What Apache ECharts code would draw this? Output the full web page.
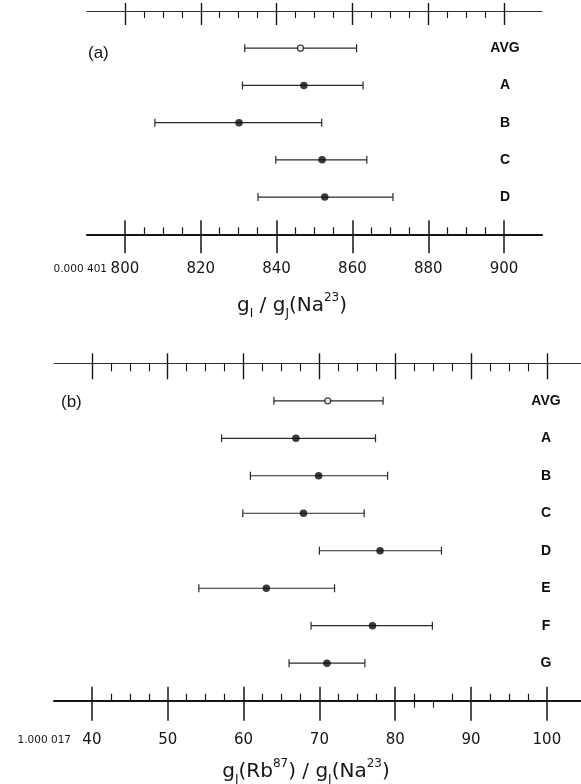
<!DOCTYPE html>
<html><head><meta charset="utf-8">
<script src="https://cdn.jsdelivr.net/npm/echarts@6/dist/echarts.min.js"></script>
<style>html,body{margin:0;padding:0;background:#fff}#c{width:581px;height:784px}</style>
</head><body><div id="c"></div>
<script>
// ---- Panel (a): gI/gJ(Na23), offset 0.000 401 ----
const rowsA = ['AVG', 'A', 'B', 'C', 'D'];
const centerA = [846.3, 847.2, 830.1, 852.0, 852.7];
const lowA = [831.6, 831.0, 807.9, 839.8, 835.1];
const highA = [861.1, 862.8, 851.9, 863.8, 870.7];
const majorTicksA = [800, 820, 840, 860, 880, 900];
const minorTicksA = [805, 810, 815, 825, 830, 835, 845, 850, 855, 865, 870, 875, 885, 890, 895];

// ---- Panel (b): gJ(Rb87)/gJ(Na23), offset 1.000 017 ----
const rowsB = ['AVG', 'A', 'B', 'C', 'D', 'E', 'F', 'G'];
const centerB = [71.1, 66.9, 69.9, 67.9, 78.0, 63.0, 77.0, 71.0];
const lowB = [64.0, 57.1, 60.9, 59.9, 70.0, 54.1, 68.9, 66.0];
const highB = [78.4, 77.4, 79.0, 75.9, 86.1, 72.0, 84.9, 76.0];
const majorTicksB = [40, 50, 60, 70, 80, 90, 100];
const minorTicksB = [42.5, 45, 47.5, 52.5, 55, 57.5, 62.5, 65, 67.5, 72.5, 75, 77.5, 82.5, 87.5, 92.5, 95, 97.5];
const minorTopB = [42.5, 45, 47.5, 52.5, 55, 57.5, 62.5, 65, 67.5, 72.5, 75, 77.5, 82.5, 85, 87.5, 92.5, 95, 97.5];
const strayTicksB = [82.5, 85];   // minor ticks drawn below the bottom axis line in the original

const INK = '#161616';
const LABEL_FONT = 'DejaVu Sans';

function axesFor(grid, min, max, major, minor, minorTop, stray, t) {
  const base = { type: 'value', gridIndex: grid, min: min, max: max, splitLine: { show: false } };
  const noLabel = { show: false };
  const list = [
    Object.assign({}, base, {
      position: 'bottom',
      axisLine: { show: true, lineStyle: { color: INK, width: 2.2 } },
      axisTick: { show: true, inside: true, length: t.bIn, customValues: major, lineStyle: { color: INK, width: 1.5 } },
      axisLabel: { show: true, customValues: major, margin: t.labelMargin, verticalAlign: 'middle',
                   color: INK, fontFamily: LABEL_FONT, fontSize: 15 }
    }),
    Object.assign({}, base, {
      position: 'bottom', axisLine: { show: false }, axisLabel: noLabel,
      axisTick: { show: true, inside: false, length: t.bOut, customValues: major, lineStyle: { color: INK, width: 1.5 } }
    }),
    Object.assign({}, base, {
      position: 'bottom', axisLine: { show: false }, axisLabel: noLabel,
      axisTick: { show: true, inside: true, length: 7, customValues: minor, lineStyle: { color: INK, width: 1.2 } }
    }),
    Object.assign({}, base, {
      position: 'top', axisLabel: noLabel,
      axisLine: { show: true, lineStyle: { color: '#333', width: 1.2 } },
      axisTick: { show: true, inside: false, length: t.tOut, customValues: major, lineStyle: { color: INK, width: 1.4 } }
    }),
    Object.assign({}, base, {
      position: 'top', axisLine: { show: false }, axisLabel: noLabel,
      axisTick: { show: true, inside: true, length: t.tIn, customValues: major, lineStyle: { color: INK, width: 1.4 } }
    }),
    Object.assign({}, base, {
      position: 'top', axisLine: { show: false }, axisLabel: noLabel,
      axisTick: { show: true, inside: true, length: t.tMinor, customValues: minorTop, lineStyle: { color: INK, width: 1.1 } }
    })
  ];
  if (stray.length) {
    list.push(Object.assign({}, base, {
      position: 'bottom', axisLine: { show: false }, axisLabel: noLabel,
      axisTick: { show: true, inside: false, length: 7, customValues: stray, lineStyle: { color: INK, width: 1.1 } }
    }));
  }
  return list;
}

function yAxisFor(grid, rows, margin) {
  return {
    type: 'category', gridIndex: grid, data: [''].concat(rows, ['']),
    boundaryGap: false, inverse: true, position: 'right',
    axisLine: { show: false }, axisTick: { show: false }, splitLine: { show: false },
    axisLabel: { show: true, inside: true, interval: 0, margin: margin, align: 'center',
                 color: '#0e0e0e', fontFamily: 'Liberation Sans', fontWeight: 'bold', fontSize: 14 }
  };
}

function errorBarRender(params, api) {
  const y = api.value(2);
  const p1 = api.coord([api.value(0), y]);
  const p2 = api.coord([api.value(1), y]);
  const h = 4;
  const style = { stroke: '#2a2a2a', lineWidth: 1.2 };
  return { type: 'group', children: [
    { type: 'line', shape: { x1: p1[0], y1: p1[1], x2: p2[0], y2: p2[1] }, style: style },
    { type: 'line', shape: { x1: p1[0], y1: p1[1] - h, x2: p1[0], y2: p1[1] + h }, style: style },
    { type: 'line', shape: { x1: p2[0], y1: p2[1] - h, x2: p2[0], y2: p2[1] + h }, style: style }
  ]};
}

function seriesFor(xIdx, yIdx, center, low, high) {
  const bars = center.map((v, i) => [low[i], high[i], i + 1]);
  const filled = center.slice(1).map((v, i) => [v, i + 2]);
  const open = [[center[0], 1]];
  return [
    { type: 'custom', xAxisIndex: xIdx, yAxisIndex: yIdx, renderItem: errorBarRender,
      encode: { x: [0, 1], y: 2 }, data: bars, silent: true, z: 2 },
    { type: 'scatter', xAxisIndex: xIdx, yAxisIndex: yIdx, symbol: 'circle', symbolSize: 7.5,
      itemStyle: { color: '#0a0a0a' }, data: filled, silent: true, z: 3 },
    { type: 'scatter', xAxisIndex: xIdx, yAxisIndex: yIdx, symbol: 'circle', symbolSize: 6,
      itemStyle: { color: '#fff', borderColor: '#111', borderWidth: 1.3 }, data: open, silent: true, z: 3 }
  ];
}

const titleRich = {
  m: { fontFamily: LABEL_FONT, fontSize: 20, lineHeight: 28, verticalAlign: 'middle', fill: INK },
  s: { fontFamily: LABEL_FONT, fontSize: 12, lineHeight: 12, verticalAlign: 'bottom', fill: INK },
  p: { fontFamily: LABEL_FONT, fontSize: 12, lineHeight: 12, verticalAlign: 'top', fill: INK }
};

const chart = echarts.init(document.getElementById('c'), null, { renderer: 'canvas' });
chart.setOption({
  backgroundColor: '#fff',
  animation: false,
  grid: [
    { left: 87, right: 39, top: 11, height: 223.3 },
    { left: 54, right: 0, top: 363.3, height: 337.4 }
  ],
  xAxis: [].concat(
    axesFor(0, 790, 910, majorTicksA, minorTicksA, minorTicksA, [], { bIn: 14, bOut: 19, tOut: 8, tIn: 14, tMinor: 7, labelMargin: 35 }),
    axesFor(1, 35, 104.5, majorTicksB, minorTicksB, minorTopB, strayTicksB, { bIn: 14, bOut: 20, tOut: 10, tIn: 16, tMinor: 8, labelMargin: 39 })
  ),
  yAxis: [yAxisFor(0, rowsA, 37), yAxisFor(1, rowsB, 35)],
  series: [].concat(
    seriesFor(0, 0, centerA, lowA, highA),
    seriesFor(6, 1, centerB, lowB, highB)
  ),
  graphic: [
    { type: 'text', x: 88, y: 53, style: { text: '(a)', fontFamily: 'Liberation Sans', fontSize: 17, fill: INK, verticalAlign: 'middle' } },
    { type: 'text', x: 61, y: 402, style: { text: '(b)', fontFamily: 'Liberation Sans', fontSize: 17, fill: INK, verticalAlign: 'middle' } },
    { type: 'text', x: 107, y: 269.5, style: { text: '0.000 401', fontFamily: LABEL_FONT, fontSize: 10.5, fill: INK, align: 'right', verticalAlign: 'middle' } },
    { type: 'text', x: 71, y: 740, style: { text: '1.000 017', fontFamily: LABEL_FONT, fontSize: 10.5, fill: INK, align: 'right', verticalAlign: 'middle' } },
    { type: 'text', x: 292, y: 306, style: { text: '{m|g}{s|I}{m| / g}{s|J}{m|(Na}{p|23}{m|)}', rich: titleRich, align: 'center', verticalAlign: 'middle' } },
    { type: 'text', x: 306, y: 772, style: { text: '{m|g}{s|J}{m|(Rb}{p|87}{m|) / g}{s|J}{m|(Na}{p|23}{m|)}', rich: titleRich, align: 'center', verticalAlign: 'middle' } }
  ]
});
</script>
</body></html>
